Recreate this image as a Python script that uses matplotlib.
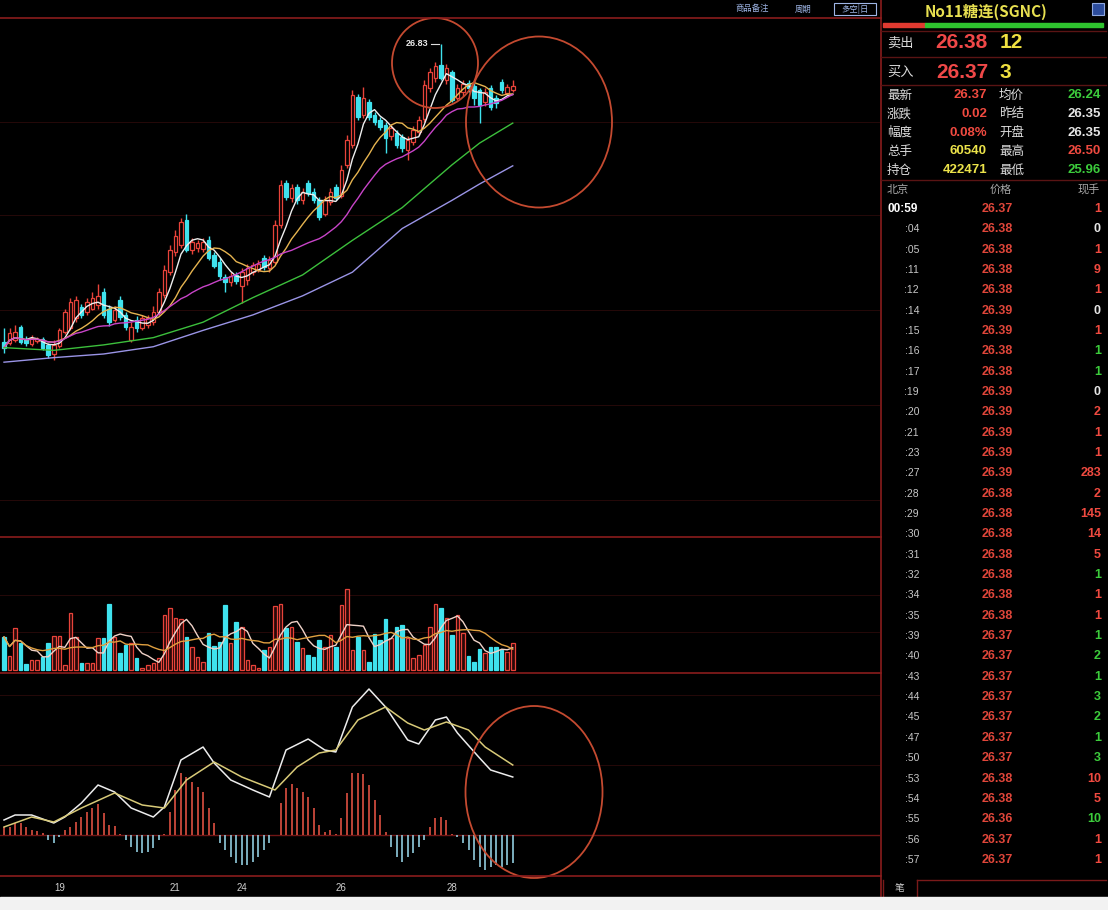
import matplotlib
matplotlib.use("Agg")
import matplotlib.pyplot as plt
import matplotlib.transforms as mtransforms
from matplotlib.patches import Ellipse, Rectangle
import pandas as pd

plt.rcParams['font.family'] = ['Noto Sans CJK SC', 'DejaVu Sans']
NUM_FONT = ['Liberation Sans Narrow', 'Liberation Sans', 'DejaVu Sans']

# ---- candles (No.11 sugar, cents/lb) ----
opens = [23.55, 23.54, 23.57, 23.72, 23.59, 23.53, 23.56, 23.59, 23.52, 23.42,
         23.51, 23.66, 23.71, 23.82, 23.94, 23.88, 23.92, 23.96, 24.10, 23.92,
         23.79, 24.01, 23.85, 23.57, 23.79, 23.71, 23.74, 23.77, 23.88, 24.07,
         24.32, 24.54, 24.62, 24.89, 24.56, 24.59, 24.58, 24.67, 24.51, 24.43,
         24.27, 24.21, 24.29, 24.17, 24.23, 24.32, 24.34, 24.48, 24.37, 24.43,
         24.84, 25.30, 25.14, 25.26, 25.11, 25.30, 25.20, 25.11, 24.96, 25.09,
         25.26, 25.16, 25.50, 25.72, 26.25, 26.05, 26.19, 26.05, 25.99, 25.94,
         25.82, 25.85, 25.81, 25.66, 25.75, 25.86, 26.00, 26.35, 26.46, 26.60,
         26.43, 26.52, 26.24, 26.30, 26.40, 26.37, 26.32, 26.19, 26.35, 26.24,
         26.41, 26.29, 26.32]
closes = [23.49, 23.65, 23.66, 23.55, 23.54, 23.60, 23.59, 23.49, 23.41, 23.52,
          23.68, 23.88, 23.99, 24.01, 23.85, 23.99, 24.04, 24.06, 23.85, 23.77,
          23.90, 23.83, 23.72, 23.72, 23.71, 23.82, 23.82, 23.88, 24.10, 24.34,
          24.56, 24.72, 24.87, 24.56, 24.65, 24.64, 24.65, 24.48, 24.39, 24.28,
          24.21, 24.28, 24.22, 24.32, 24.37, 24.40, 24.41, 24.38, 24.45, 24.84,
          25.28, 25.15, 25.25, 25.11, 25.20, 25.19, 25.11, 24.93, 25.11, 25.20,
          25.14, 25.44, 25.77, 26.27, 26.03, 26.24, 26.03, 25.97, 25.92, 25.80,
          25.91, 25.72, 25.69, 25.77, 25.88, 25.99, 26.38, 26.52, 26.59, 26.46,
          26.57, 26.21, 26.35, 26.39, 26.35, 26.24, 26.16, 26.30, 26.14, 26.18,
          26.32, 26.36, 26.37]
highs = [23.71, 23.71, 23.74, 23.74, 23.62, 23.63, 23.61, 23.61, 23.54, 23.57,
         23.71, 23.92, 24.04, 24.06, 23.97, 24.04, 24.10, 24.19, 24.15, 23.96,
         23.95, 24.06, 23.88, 23.77, 23.84, 23.85, 23.85, 23.95, 24.15, 24.40,
         24.62, 24.78, 24.92, 24.96, 24.70, 24.67, 24.70, 24.72, 24.54, 24.48,
         24.30, 24.32, 24.32, 24.37, 24.41, 24.43, 24.45, 24.51, 24.50, 24.89,
         25.33, 25.33, 25.29, 25.29, 25.25, 25.33, 25.25, 25.15, 25.16, 25.25,
         25.29, 25.50, 25.83, 26.32, 26.28, 26.36, 26.22, 26.08, 26.03, 25.97,
         25.95, 25.88, 25.84, 25.82, 25.93, 26.04, 26.43, 26.57, 26.63, 26.83,
         26.61, 26.54, 26.39, 26.43, 26.43, 26.40, 26.35, 26.35, 26.38, 26.27,
         26.44, 26.39, 26.43]
lows = [23.43, 23.52, 23.55, 23.53, 23.51, 23.51, 23.54, 23.46, 23.38, 23.35,
        23.49, 23.64, 23.68, 23.77, 23.82, 23.85, 23.90, 23.92, 23.82, 23.73,
        23.77, 23.79, 23.68, 23.55, 23.66, 23.68, 23.71, 23.74, 23.85, 24.04,
        24.29, 24.50, 24.59, 24.54, 24.52, 24.54, 24.54, 24.45, 24.37, 24.23,
        24.10, 24.17, 24.19, 23.98, 24.18, 24.29, 24.32, 24.34, 24.32, 24.41,
        24.81, 25.11, 25.09, 25.07, 25.07, 25.16, 25.08, 24.89, 24.94, 25.06,
        25.11, 25.14, 25.47, 25.69, 25.99, 26.02, 25.99, 25.94, 25.88, 25.63,
        25.77, 25.69, 25.64, 25.55, 25.72, 25.83, 25.97, 26.30, 26.41, 26.43,
        26.39, 26.19, 26.21, 26.26, 26.30, 26.16, 25.96, 26.15, 26.10, 26.13,
        26.29, 26.27, 26.30]
volumes = [6600, 2800, 8400, 5400, 1200, 2000, 2000, 2600, 5400, 6800,
           6800, 1000, 11400, 6600, 1400, 1400, 1400, 6400, 6400, 13200,
           6600, 3400, 5000, 5400, 2400, 400, 1000, 1400, 2400, 11000,
           12400, 10400, 10200, 6600, 4600, 2600, 1600, 7400, 4800, 5600,
           13000, 5400, 9600, 8600, 2000, 1000, 400, 4000, 4600, 12800,
           13200, 8400, 8600, 5600, 4400, 3000, 2600, 6000, 4600, 7000,
           4600, 13000, 16200, 4000, 6600, 4000, 1600, 7200, 6000, 10200,
           6400, 8600, 9000, 6400, 2400, 3000, 5000, 8600, 13200, 12400,
           10400, 7000, 11000, 7400, 2800, 1600, 4200, 3400, 4600, 4600,
           4000, 3600, 5400]

date_ticks = [10, 31, 43, 61, 81]
date_labels = ['19', '21', '24', '26', '28']

# long moving averages (candle index, price)
ma_long_idx = [0, 9, 18, 27, 36, 45, 54, 63, 72, 81, 86, 92]
ma40 = [23.49, 23.46, 23.52, 23.60, 23.77, 24.04, 24.29, 24.67, 25.03, 25.50, 25.74, 25.96]
ma60 = [23.33, 23.38, 23.42, 23.50, 23.68, 23.85, 24.06, 24.32, 24.80, 25.11, 25.29, 25.49]

# MACD
dif_idx = [0, 2, 5, 9, 11, 14, 17, 20, 23, 27, 29, 32, 36, 38, 41, 45, 48, 51, 55, 58,
           60, 63, 66, 69, 73, 75, 78, 80, 82, 86, 88, 92]
dif_vals = [0.030, 0.040, 0.040, 0.024, 0.036, 0.064, 0.100, 0.086, 0.054, 0.036,
            0.056, 0.150, 0.176, 0.144, 0.110, 0.090, 0.076, 0.170, 0.192, 0.170,
            0.166, 0.256, 0.292, 0.256, 0.190, 0.182, 0.230, 0.236, 0.204, 0.154,
            0.130, 0.116]
dea_idx = [0, 5, 9, 14, 20, 25, 29, 33, 38, 43, 49, 53, 57, 60, 64, 69, 73, 76, 80, 84, 87, 92]
dea_vals = [0.016, 0.036, 0.026, 0.054, 0.084, 0.060, 0.054, 0.110, 0.146, 0.116,
            0.090, 0.136, 0.164, 0.170, 0.230, 0.256, 0.224, 0.210, 0.226, 0.210,
            0.176, 0.140]
macd_hist = [0.016, 0.016, 0.024, 0.024, 0.016, 0.010, 0.008, 0.004, -0.010, -0.016,
             -0.004, 0.010, 0.016, 0.026, 0.036, 0.046, 0.054, 0.062, 0.044, 0.020,
             0.018, 0.002, -0.010, -0.024, -0.034, -0.036, -0.034, -0.026, -0.010, 0.002,
             0.046, 0.090, 0.124, 0.116, 0.106, 0.096, 0.086, 0.054, 0.024, -0.016,
             -0.030, -0.044, -0.056, -0.060, -0.060, -0.054, -0.044, -0.030, -0.016, 0.000,
             0.064, 0.094, 0.102, 0.094, 0.086, 0.076, 0.054, 0.020, 0.006, 0.010,
             0.002, 0.034, 0.084, 0.124, 0.124, 0.122, 0.100, 0.070, 0.040, 0.006,
             -0.024, -0.044, -0.054, -0.044, -0.036, -0.024, -0.010, 0.016, 0.034, 0.036,
             0.030, 0.002, -0.004, -0.016, -0.030, -0.050, -0.064, -0.070, -0.064, -0.060,
             -0.064, -0.060, -0.056]

# ---- quote panel ----
title = 'No11糖连(SGNC)'
ask_price, ask_size = '26.38', '12'
bid_price, bid_size = '26.37', '3'
stats = [('最新', '26.37', 'r', '均价', '26.24', 'g'),
         ('涨跌', '0.02', 'r', '昨结', '26.35', 'w'),
         ('幅度', '0.08%', 'r', '开盘', '26.35', 'w'),
         ('总手', '60540', 'y', '最高', '26.50', 'r'),
         ('持仓', '422471', 'y', '最低', '25.96', 'g')]
tick_times = ['00:59', ':04', ':05', ':11', ':12', ':14', ':15', ':16', ':17', ':19', ':20',
              ':21', ':23', ':27', ':28', ':29', ':30', ':31', ':32', ':34', ':35', ':39',
              ':40', ':43', ':44', ':45', ':47', ':50', ':53', ':54', ':55', ':56', ':57']
tick_prices = ['26.37', '26.38', '26.38', '26.38', '26.38', '26.39', '26.39', '26.38', '26.38',
               '26.39', '26.39', '26.39', '26.39', '26.39', '26.38', '26.38', '26.38', '26.38',
               '26.38', '26.38', '26.38', '26.37', '26.37', '26.37', '26.37', '26.37', '26.37',
               '26.37', '26.38', '26.38', '26.36', '26.37', '26.37']
tick_sizes = ['1', '0', '1', '9', '1', '0', '1', '1', '1', '0', '2', '1', '1', '283', '2', '145',
              '14', '5', '1', '1', '1', '1', '2', '1', '3', '2', '1', '3', '10', '5', '10', '1', '1']
tick_side = ['r', 'w', 'r', 'r', 'r', 'w', 'r', 'g', 'g', 'w', 'r', 'r', 'r', 'r', 'r', 'r',
             'r', 'r', 'g', 'r', 'r', 'g', 'g', 'g', 'g', 'g', 'g', 'g', 'r', 'r', 'g', 'r', 'r']

RED = '#e8433a'
CYAN = '#3fe2ee'
GRID = '#260909'
BORDER = '#8a1c1c'
TXT = {'r': '#f04a40', 'g': '#3ccc3c', 'w': '#e6e6e6', 'y': '#ece34a'}

W, H = 1108, 910
fig = plt.figure(figsize=(W / 100, H / 100), dpi=100, facecolor='black')


def px_axes(top, bottom):
    ax = fig.add_axes([0, 1 - bottom / H, 880 / W, (bottom - top) / H])
    ax.set_facecolor('black')
    for s in ax.spines.values():
        s.set_visible(False)
    ax.set_xticks([])
    ax.set_yticks([])
    ax.set_xlim(-4 / 5.53, (880 - 4) / 5.53)
    return ax


ax_p = px_axes(18, 537)
ax_v = px_axes(537, 673)
ax_m = px_axes(673, 876)

df = pd.DataFrame({'o': opens, 'c': closes, 'h': highs, 'l': lows, 'v': volumes})
x = df.index.values
up = df['c'] >= df['o']
bw = 0.64

# price panel
ax_p.set_ylim(21.407, 27.116)
for g in [25.97, 24.95, 23.90, 22.86, 21.81]:
    ax_p.axhline(g, color=GRID, lw=0.7, zorder=0)
for i in x:
    col = RED if up[i] else CYAN
    ax_p.vlines(i, df['l'][i], df['h'][i], color=col, lw=1, zorder=2)
    lo, hi = sorted([df['o'][i], df['c'][i]])
    ax_p.add_patch(Rectangle((i - bw / 2, lo), bw, max(hi - lo, 0.006),
                             facecolor='black' if up[i] else col, edgecolor=col,
                             lw=0.9, zorder=3))
ax_p.plot(x, df['c'].rolling(5, min_periods=1).mean(), color='#eeeeee', lw=1, zorder=4)
ax_p.plot(x, df['c'].rolling(10, min_periods=1).mean(), color='#e6b450', lw=1, zorder=4)
ax_p.plot(x, df['c'].rolling(20, min_periods=1).mean(), color='#c844c8', lw=1, zorder=4)
ax_p.plot(ma_long_idx, ma40, color='#3cbf3c', lw=1, zorder=4)
ax_p.plot(ma_long_idx, ma60, color='#9a94e6', lw=1, zorder=4)
pk = int(df['h'].idxmax())
ax_p.plot([pk - 1.8, pk - 0.3], [df['h'][pk]] * 2, color='#dddddd', lw=0.8)
ax_p.text(pk - 2.3, df['h'][pk], f"{df['h'][pk]:.2f}", color='#e8e8e8', fontsize=6.5,
          ha='right', va='center', family=NUM_FONT, weight='bold')

# volume panel
ax_v.set_ylim(-600, 26600)
for g in [15000, 7600]:
    ax_v.axhline(g, color=GRID, lw=0.7, zorder=0)
for i in x:
    col = RED if up[i] else CYAN
    ax_v.add_patch(Rectangle((i - bw / 2, 0), bw, df['v'][i],
                             facecolor='#2a0808' if up[i] else col, edgecolor=col,
                             lw=0.9, zorder=2))
ax_v.plot(x, df['v'].rolling(5, min_periods=1).mean(), color='#f0d2c8', lw=1, zorder=3)
ax_v.plot(x, df['v'].rolling(10, min_periods=1).mean(), color='#e0a040', lw=1, zorder=3)

# MACD panel
ax_m.set_ylim(-0.082, 0.324)
for g in [0.28, 0.14]:
    ax_m.axhline(g, color=GRID, lw=0.7, zorder=0)
ax_m.axhline(0, color='#701616', lw=1, zorder=1)
hist_cols = ['#cc4a3c' if v >= 0 else '#86bccc' for v in macd_hist]
ax_m.vlines(x, 0, macd_hist, colors=hist_cols, lw=1.3, zorder=2)
ax_m.plot(dif_idx, dif_vals, color='#ececec', lw=1.1, zorder=3)
ax_m.plot(dea_idx, dea_vals, color='#d8ca78', lw=1.1, zorder=3)

tr = mtransforms.blended_transform_factory(ax_m.transData, fig.transFigure)
for t, lab in zip(date_ticks, date_labels):
    fig.text(t, 1 - 888 / H, lab, transform=tr, color='#d0d0d0', fontsize=7,
             ha='center', va='center', family=NUM_FONT)

# overlay in pixel coordinates
ov = fig.add_axes([0, 0, 1, 1])
ov.set_xlim(0, W)
ov.set_ylim(H, 0)
ov.axis('off')
ov.patch.set_alpha(0)

for yy in [18, 537, 673, 876]:
    ov.plot([0, 881], [yy, yy], color=BORDER, lw=1.2)
ov.plot([881, 881], [0, 896], color=BORDER, lw=1.2)
for yy in [31, 57, 85, 180]:
    ov.plot([881, 1106], [yy, yy], color='#5a1414', lw=1)
ov.plot([917, 1106], [880, 880], color='#7a1a1a', lw=1)
ov.plot([917, 917], [880, 896], color='#7a1a1a', lw=1)
ov.plot([883, 883], [880, 896], color='#7a1a1a', lw=1)
ov.add_patch(Rectangle((0, 897), W, H - 897, color='#f2f2f2', zorder=5))

# hand-drawn circles
for cx, cy, ew, eh in [(435, 63, 86, 90), (539, 122, 146, 171), (534, 792, 137, 172)]:
    ov.add_patch(Ellipse((cx, cy), ew, eh, fill=False, edgecolor='#c44a30', lw=1.3))

# top toolbar labels
for tx, s in [(752, '商品备注'), (803, '周期')]:
    ov.text(tx, 9, s, color='#9fb6e6', fontsize=6, ha='center', va='center')
ov.add_patch(Rectangle((834, 3), 42, 12, fill=False, edgecolor='#9fb6e6', lw=0.8))
ov.text(855, 9, '多空|日', color='#9fb6e6', fontsize=6, ha='center', va='center')
ov.add_patch(Rectangle((1092, 3), 12, 12, facecolor='#2c4c9c', edgecolor='#8fa8e0', lw=0.8))

# quote panel
ov.text(986, 12, title, color='#e8e050', fontsize=11, ha='center', va='center', weight='bold')
ov.add_patch(Rectangle((883, 23), 42, 4, color='#e03a30'))
ov.add_patch(Rectangle((925, 23), 178, 4, color='#2ec32e'))
for yy, lab, p, q in [(43, '卖出', ask_price, ask_size), (72, '买入', bid_price, bid_size)]:
    ov.text(887, yy, lab, color='#dcdcdc', fontsize=9.5, ha='left', va='center')
    ov.text(988, yy, p, color='#f04848', fontsize=15, ha='right', va='center',
            weight='bold', family=NUM_FONT)
    ov.text(1000, yy, q, color='#f0e040', fontsize=15, ha='left', va='center',
            weight='bold', family=NUM_FONT)
for k, (l1, v1, c1, l2, v2, c2) in enumerate(stats):
    yy = 95 + k * 18.8
    ov.text(887, yy, l1, color='#dcdcdc', fontsize=9, ha='left', va='center')
    ov.text(987, yy, v1, color=TXT[c1], fontsize=9.5, ha='right', va='center',
            weight='bold', family=NUM_FONT)
    ov.text(999, yy, l2, color='#dcdcdc', fontsize=9, ha='left', va='center')
    ov.text(1101, yy, v2, color=TXT[c2], fontsize=9.5, ha='right', va='center',
            weight='bold', family=NUM_FONT)

ov.text(887, 190, '北京', color='#a8a8a8', fontsize=8, ha='left', va='center')
ov.text(1001, 190, '价格', color='#a8a8a8', fontsize=8, ha='center', va='center')
ov.text(1100, 190, '现手', color='#a8a8a8', fontsize=8, ha='right', va='center')
for k, (tt, pp, ss, sd) in enumerate(zip(tick_times, tick_prices, tick_sizes, tick_side)):
    yy = 209 + k * 20.34
    if k == 0:
        ov.text(888, yy, tt, color='#ffffff', fontsize=8.5, ha='left', va='center',
                weight='bold', family=NUM_FONT)
    else:
        ov.text(919, yy, tt, color='#c8c8c8', fontsize=7.5, ha='right', va='center',
                family=NUM_FONT)
    ov.text(997, yy, pp, color='#e0463a', fontsize=9, ha='center', va='center',
            weight='bold', family=NUM_FONT)
    ov.text(1101, yy, ss, color=TXT[sd], fontsize=9, ha='right', va='center',
            weight='bold', family=NUM_FONT)
ov.text(900, 888, '笔', color='#d0d0d0', fontsize=7, ha='center', va='center')

fig.savefig('out.png', dpi=100, facecolor='black')
